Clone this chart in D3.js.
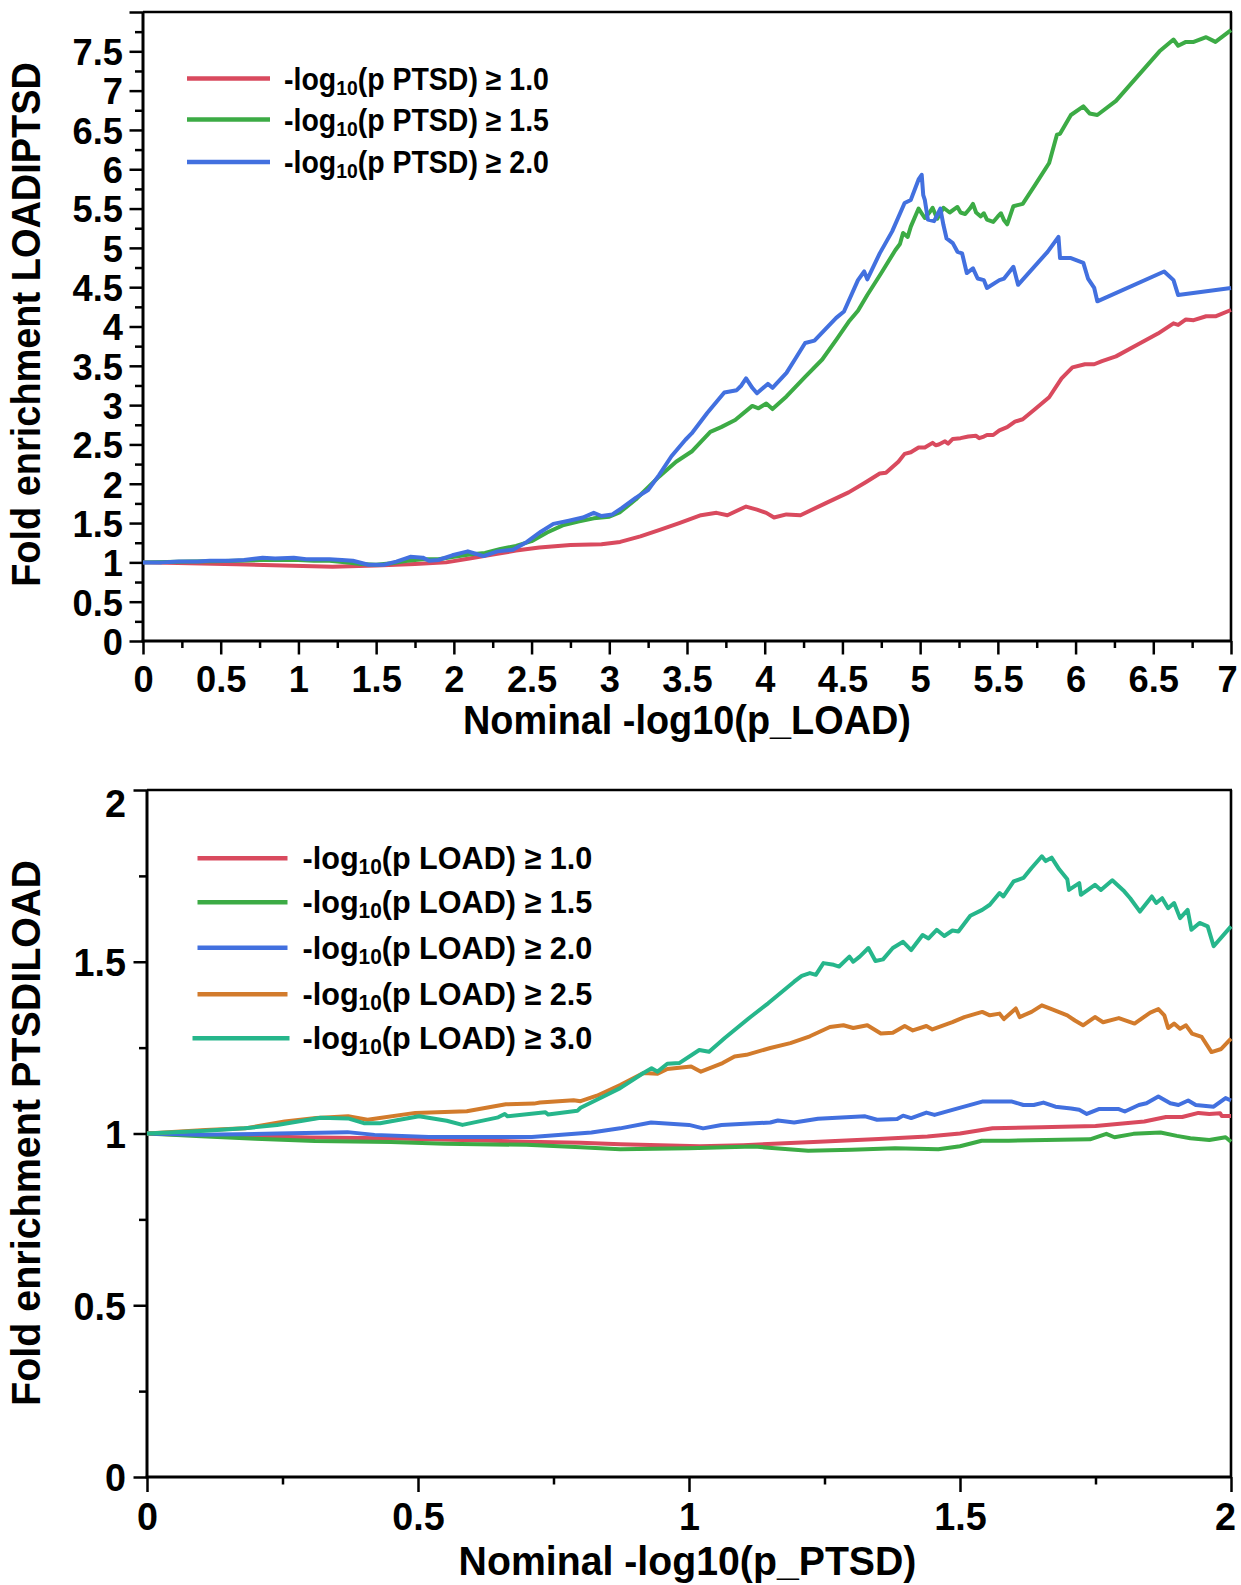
<!DOCTYPE html>
<html><head><meta charset="utf-8">
<script src="https://cdn.jsdelivr.net/npm/d3@7/dist/d3.min.js"></script>
<style>
html,body{margin:0;padding:0;background:#fff;}
svg{display:block;}
text{font-family:"Liberation Sans",Arial,Helvetica,sans-serif;font-weight:bold;fill:#000;}
</style></head><body>
<svg id="chart" width="1241" height="1585"></svg>
<script>
// ---------------- DATA ----------------
// Top panel: fold enrichment LOAD|PTSD vs nominal -log10(p_LOAD)
const topLevels = ["1.0", "1.5", "2.0"];
const topColors = ["#d94a5e", "#3cab45", "#4270df"];
const topXMajor = [0,0.5,1,1.5,2,2.5,3,3.5,4,4.5,5,5.5,6,6.5,7];
const topYMajor = [0,0.5,1,1.5,2,2.5,3,3.5,4,4.5,5,5.5,6,6.5,7,7.5,8];
const topYLabels = ["0","0.5","1","1.5","2","2.5","3","3.5","4","4.5","5","5.5","6","6.5","7","7.5",""];

const topPtsd10 = [[0,1.0],[0.3,0.99],[0.6,0.975],[0.9,0.96],[1.22,0.945],[1.5,0.96],[1.75,0.98],[1.95,1.0],[2.1,1.05],[2.25,1.1],[2.4,1.15],[2.55,1.19],[2.75,1.22],[2.95,1.23],[3.07,1.26],[3.2,1.33],[3.32,1.41],[3.45,1.5],[3.59,1.6],[3.69,1.63],[3.76,1.60],[3.88,1.71],[3.95,1.67],[4.01,1.63],[4.06,1.57],[4.14,1.61],[4.23,1.60],[4.39,1.75],[4.54,1.89],[4.65,2.02],[4.74,2.13],[4.78,2.14],[4.86,2.28],[4.90,2.38],[4.94,2.40],[4.99,2.46],[5.03,2.46],[5.08,2.52],[5.10,2.49],[5.12,2.50],[5.16,2.54],[5.18,2.51],[5.21,2.57],[5.26,2.58],[5.31,2.60],[5.36,2.61],[5.38,2.58],[5.41,2.60],[5.43,2.62],[5.47,2.62],[5.51,2.68],[5.56,2.72],[5.61,2.79],[5.66,2.82],[5.74,2.95],[5.83,3.10],[5.91,3.34],[5.98,3.48],[6.06,3.52],[6.12,3.52],[6.17,3.56],[6.26,3.62],[6.40,3.77],[6.53,3.91],[6.63,4.04],[6.66,4.02],[6.71,4.09],[6.76,4.08],[6.84,4.13],[6.90,4.13],[7.0,4.21]];

const topPtsd15 = [[0,1.0],[0.15,1.005],[0.3,1.01],[0.45,1.015],[0.6,1.02],[0.75,1.03],[0.9,1.03],[1.0,1.03],[1.1,1.02],[1.2,1.02],[1.3,1.0],[1.4,0.98],[1.5,0.97],[1.6,0.99],[1.7,1.02],[1.8,1.04],[1.9,1.04],[2.0,1.07],[2.1,1.1],[2.2,1.12],[2.3,1.17],[2.4,1.21],[2.5,1.27],[2.6,1.38],[2.7,1.47],[2.8,1.52],[2.9,1.56],[3.0,1.58],[3.07,1.64],[3.17,1.80],[3.32,2.09],[3.43,2.28],[3.53,2.41],[3.65,2.66],[3.72,2.72],[3.81,2.81],[3.92,2.99],[3.96,2.96],[4.01,3.02],[4.05,2.95],[4.14,3.11],[4.26,3.36],[4.37,3.58],[4.46,3.83],[4.54,4.06],[4.60,4.20],[4.66,4.40],[4.75,4.68],[4.84,4.97],[4.87,5.05],[4.89,5.19],[4.92,5.14],[4.94,5.27],[4.99,5.50],[5.03,5.38],[5.06,5.45],[5.08,5.51],[5.11,5.37],[5.15,5.51],[5.19,5.45],[5.24,5.52],[5.26,5.45],[5.29,5.43],[5.32,5.50],[5.34,5.56],[5.36,5.45],[5.39,5.40],[5.41,5.44],[5.43,5.36],[5.47,5.33],[5.50,5.40],[5.52,5.44],[5.54,5.35],[5.56,5.30],[5.60,5.53],[5.66,5.56],[5.74,5.80],[5.83,6.08],[5.88,6.44],[5.90,6.45],[5.97,6.69],[6.05,6.80],[6.09,6.71],[6.14,6.69],[6.26,6.87],[6.38,7.14],[6.54,7.50],[6.63,7.65],[6.66,7.57],[6.71,7.62],[6.76,7.62],[6.84,7.68],[6.90,7.62],[7.0,7.77]];

const topPtsd20 = [[0,1.0],[0.12,1.0],[0.23,1.01],[0.35,1.01],[0.43,1.02],[0.55,1.02],[0.65,1.03],[0.77,1.06],[0.85,1.05],[0.97,1.06],[1.05,1.04],[1.2,1.04],[1.28,1.03],[1.35,1.02],[1.45,0.97],[1.55,0.97],[1.63,1.01],[1.72,1.07],[1.8,1.06],[1.84,1.02],[1.9,1.03],[1.99,1.09],[2.09,1.14],[2.14,1.11],[2.19,1.08],[2.28,1.14],[2.38,1.16],[2.47,1.26],[2.56,1.39],[2.64,1.49],[2.74,1.53],[2.83,1.57],[2.90,1.63],[2.95,1.59],[3.02,1.61],[3.08,1.69],[3.17,1.82],[3.25,1.92],[3.32,2.11],[3.40,2.35],[3.49,2.56],[3.53,2.64],[3.63,2.90],[3.74,3.16],[3.82,3.19],[3.85,3.25],[3.88,3.34],[3.92,3.22],[3.95,3.15],[4.02,3.27],[4.05,3.22],[4.14,3.41],[4.20,3.60],[4.26,3.79],[4.32,3.82],[4.46,4.11],[4.51,4.19],[4.60,4.59],[4.64,4.70],[4.66,4.60],[4.74,4.93],[4.82,5.21],[4.90,5.57],[4.94,5.61],[4.99,5.87],[5.01,5.93],[5.02,5.67],[5.03,5.61],[5.05,5.36],[5.09,5.34],[5.13,5.50],[5.15,5.29],[5.17,5.12],[5.21,5.06],[5.24,4.95],[5.27,4.93],[5.30,4.68],[5.34,4.74],[5.37,4.61],[5.41,4.59],[5.43,4.49],[5.51,4.59],[5.54,4.61],[5.60,4.76],[5.63,4.53],[5.82,4.95],[5.89,5.14],[5.90,4.87],[5.97,4.87],[6.05,4.81],[6.08,4.61],[6.12,4.49],[6.14,4.32],[6.57,4.70],[6.63,4.59],[6.66,4.40],[7.0,4.49]];

// Bottom panel: fold enrichment PTSD|LOAD vs nominal -log10(p_PTSD)
const bottomLevels = ["1.0", "1.5", "2.0", "2.5", "3.0"];
const bottomColors = ["#d94a5e", "#3cab45", "#4270df", "#d27b2c", "#26b68b"];
const bottomXMajor = [0,0.5,1,1.5,2];
const bottomYMajor = [0,0.5,1,1.5,2];

const botLoad10 = [[0,1.0],[0.1,0.995],[0.2,0.992],[0.3,0.988],[0.4,0.987],[0.5,0.984],[0.6,0.98],[0.7,0.976],[0.8,0.973],[0.873,0.969],[1.02,0.963],[1.1,0.966],[1.24,0.976],[1.35,0.984],[1.44,0.991],[1.5,1.0],[1.56,1.015],[1.65,1.018],[1.75,1.022],[1.84,1.035],[1.88,1.048],[1.91,1.048],[1.94,1.06],[1.96,1.057],[1.98,1.059],[1.983,1.051],[2.0,1.051]];

const botLoad15 = [[0,1.0],[0.1,0.992],[0.2,0.985],[0.31,0.978],[0.45,0.975],[0.55,0.97],[0.7,0.967],[0.8,0.96],[0.873,0.954],[1.0,0.957],[1.12,0.962],[1.22,0.95],[1.3,0.953],[1.38,0.957],[1.46,0.954],[1.5,0.963],[1.54,0.979],[1.59,0.979],[1.74,0.983],[1.77,0.999],[1.785,0.989],[1.82,0.999],[1.87,1.003],[1.9,0.993],[1.925,0.986],[1.96,0.981],[1.99,0.989],[2.0,0.976]];

const botLoad20 = [[0,1.0],[0.1,0.996],[0.24,1.0],[0.37,1.004],[0.42,0.996],[0.52,0.99],[0.71,0.99],[0.82,1.003],[0.873,1.015],[0.93,1.032],[1.0,1.025],[1.026,1.015],[1.06,1.025],[1.15,1.032],[1.164,1.038],[1.194,1.032],[1.238,1.043],[1.325,1.05],[1.347,1.04],[1.384,1.042],[1.395,1.052],[1.41,1.045],[1.438,1.061],[1.453,1.054],[1.486,1.069],[1.541,1.093],[1.596,1.093],[1.617,1.083],[1.636,1.083],[1.654,1.09],[1.676,1.078],[1.705,1.073],[1.72,1.069],[1.734,1.057],[1.756,1.071],[1.793,1.071],[1.804,1.064],[1.83,1.083],[1.844,1.088],[1.866,1.108],[1.888,1.088],[1.903,1.083],[1.921,1.096],[1.935,1.083],[1.968,1.078],[1.99,1.103],[2.0,1.096]];

const botLoad25 = [[0,1.0],[0.108,1.01],[0.181,1.015],[0.254,1.035],[0.312,1.045],[0.371,1.05],[0.407,1.04],[0.495,1.06],[0.59,1.065],[0.662,1.085],[0.714,1.087],[0.725,1.09],[0.787,1.097],[0.8,1.094],[0.83,1.11],[0.873,1.141],[0.916,1.176],[0.942,1.174],[0.96,1.188],[1.004,1.195],[1.022,1.18],[1.062,1.205],[1.084,1.224],[1.106,1.229],[1.15,1.249],[1.187,1.263],[1.223,1.283],[1.26,1.31],[1.285,1.315],[1.303,1.307],[1.329,1.315],[1.354,1.291],[1.376,1.293],[1.398,1.313],[1.413,1.30],[1.438,1.313],[1.449,1.303],[1.486,1.324],[1.508,1.339],[1.541,1.354],[1.555,1.344],[1.573,1.349],[1.581,1.333],[1.603,1.364],[1.61,1.339],[1.632,1.354],[1.651,1.373],[1.669,1.362],[1.698,1.344],[1.712,1.329],[1.727,1.315],[1.749,1.339],[1.764,1.324],[1.793,1.336],[1.822,1.32],[1.851,1.352],[1.866,1.362],[1.877,1.344],[1.884,1.307],[1.895,1.32],[1.906,1.305],[1.917,1.315],[1.928,1.291],[1.946,1.281],[1.964,1.237],[1.982,1.246],[2.0,1.276]];

const botLoad30 = [[0,1.0],[0.108,1.008],[0.18,1.015],[0.24,1.025],[0.32,1.046],[0.371,1.044],[0.40,1.03],[0.43,1.03],[0.502,1.05],[0.553,1.037],[0.582,1.025],[0.648,1.047],[0.66,1.057],[0.665,1.05],[0.735,1.062],[0.74,1.055],[0.794,1.066],[0.80,1.075],[0.845,1.11],[0.873,1.132],[0.916,1.176],[0.931,1.19],[0.942,1.18],[0.96,1.203],[0.982,1.205],[1.019,1.243],[1.037,1.238],[1.066,1.278],[1.114,1.34],[1.146,1.379],[1.194,1.442],[1.208,1.459],[1.223,1.467],[1.234,1.462],[1.248,1.496],[1.267,1.491],[1.277,1.486],[1.296,1.515],[1.303,1.50],[1.315,1.515],[1.331,1.54],[1.344,1.502],[1.358,1.507],[1.376,1.54],[1.395,1.558],[1.41,1.534],[1.431,1.578],[1.442,1.568],[1.457,1.593],[1.471,1.575],[1.486,1.591],[1.497,1.588],[1.519,1.634],[1.541,1.651],[1.555,1.666],[1.573,1.70],[1.58,1.69],[1.599,1.734],[1.617,1.744],[1.632,1.773],[1.651,1.807],[1.658,1.793],[1.669,1.803],[1.683,1.769],[1.698,1.74],[1.701,1.709],[1.72,1.729],[1.723,1.695],[1.749,1.724],[1.76,1.709],[1.781,1.737],[1.803,1.705],[1.814,1.685],[1.832,1.646],[1.854,1.69],[1.862,1.671],[1.873,1.685],[1.884,1.656],[1.895,1.671],[1.906,1.627],[1.92,1.651],[1.927,1.593],[1.942,1.613],[1.957,1.603],[1.968,1.545],[2.0,1.603]];

// ---------------- DRAWING ----------------
const svg = d3.select("#chart");

function stretchText(sel, targetW){
  const w = sel.node().getBBox().width;
  return targetW / w;
}

function panel(o){
  const g = svg.append("g");
  const x = d3.scaleLinear().domain(o.xDomain).range([o.left, o.right]);
  const y = d3.scaleLinear().domain(o.yDomain).range([o.bottom, o.top]);

  // frame (top & right)
  g.append("line").attr("x1", x(o.xDomain[0])).attr("x2", x(o.xDomain[1])+1).attr("y1", y(o.yDomain[1])).attr("y2", y(o.yDomain[1]))
    .attr("stroke","#000").attr("stroke-width",2.6);
  g.append("line").attr("x1", x(o.xDomain[1])).attr("x2", x(o.xDomain[1])).attr("y1", y(o.yDomain[1])).attr("y2", y(o.yDomain[0]))
    .attr("stroke","#000").attr("stroke-width",2.6);

  // minor ticks
  const xMinorAxis = d3.axisBottom(x).tickValues(o.xMinor).tickSize(o.xMinorLen).tickFormat("");
  const gxm = g.append("g").attr("transform",`translate(0,${o.bottom})`).call(xMinorAxis);
  gxm.select(".domain").remove();
  gxm.selectAll("line").attr("stroke-width",2.5);
  const yMinorAxis = d3.axisLeft(y).tickValues(o.yMinor).tickSize(o.yMinorLen).tickFormat("");
  const gym = g.append("g").attr("transform",`translate(${o.left},0)`).call(yMinorAxis);
  gym.select(".domain").remove();
  gym.selectAll("line").attr("stroke-width",2.5);

  // major x
  const xAxis = d3.axisBottom(x).tickValues(o.xMajor).tickSize(o.xMajorLen).tickFormat(d => String(d));
  const gx = g.append("g").attr("transform",`translate(0,${o.bottom})`).call(xAxis);
  gx.attr("font-family", null).attr("font-size", null);
  gx.select(".domain").remove();
  gx.selectAll("line").attr("stroke-width",2.5);
  gx.selectAll("text").attr("font-size", o.tickFont).attr("dy", 0)
    .attr("y", o.xLabelGap + 0.716*o.tickFont)
    .attr("transform", `scale(${o.tickSx},1)`);
  gx.selectAll(".tick").filter((d,i,n) => i === n.length-1).select("text").attr("x", -o.lastShift/o.tickSx);

  // major y
  const yAxis = d3.axisLeft(y).tickValues(o.yMajor).tickSize(o.yMajorLen).tickFormat((d,i) => o.yLabels[i]);
  const gy = g.append("g").attr("transform",`translate(${o.left},0)`).call(yAxis);
  gy.attr("font-family", null).attr("font-size", null);
  gy.select(".domain").remove();
  gy.selectAll("line").attr("stroke-width",2.5);
  gy.selectAll("text").attr("font-size", o.tickFont).attr("dy", "0.36em")
    .attr("x", -o.yLabelGap/o.tickSx)
    .attr("transform", `scale(${o.tickSx},1)`);
  if (o.topLabelShift) {
    gy.selectAll(".tick").filter(d => d === o.yDomain[1]).select("text").attr("y", o.topLabelShift);
  }

  // axis lines
  g.append("line").attr("x1", o.left).attr("x2", o.left).attr("y1", y(o.yDomain[1])).attr("y2", y(o.yDomain[0])+1.3)
    .attr("stroke","#000").attr("stroke-width",3);
  g.append("line").attr("x1", o.left-1.3).attr("x2", x(o.xDomain[1])).attr("y1", o.bottom).attr("y2", o.bottom)
    .attr("stroke","#000").attr("stroke-width",3);

  // series
  const line = d3.line().x(d => x(d[0])).y(d => y(d[1]));
  o.series.forEach((s, i) => {
    g.append("path").datum(s).attr("d", line).attr("fill","none")
      .attr("stroke", o.colors[i]).attr("stroke-width", 4)
      .attr("stroke-linejoin","round").attr("stroke-linecap","butt");
  });

  // legend
  o.levels.forEach((lv, i) => {
    const ly = o.legendY[i];
    const ext = (i === o.levels.length-1 && o.lastLegendExt) ? o.lastLegendExt : 0;
    g.append("line").attr("x1", o.legendX1 - ext).attr("x2", o.legendX2 + ext*0.4).attr("y1", ly).attr("y2", ly)
      .attr("stroke", o.colors[i]).attr("stroke-width", 4.5);
    const t = g.append("text").attr("x", 0).attr("y", 0).attr("font-size", o.legendFont);
    t.append("tspan").text("-log");
    t.append("tspan").attr("font-size", o.legendFont*0.68).attr("dy", 5).text("10");
    t.append("tspan").attr("dy", -5).text(`(p ${o.legendVar}) \u2265 ${lv}`);
    const s = stretchText(t, o.legendW);
    t.attr("transform", `translate(${o.legendTX},${ly + 11}) scale(${s},1)`);
  });

  // x title
  const xt = g.append("text").attr("text-anchor","middle").attr("font-size", o.titleFont).text(o.xTitle);
  const sx = stretchText(xt, o.xTitleW);
  xt.attr("transform", `translate(${o.xTitleCX},${o.xTitleBase}) scale(${sx},1)`);

  // y title
  const yt = g.append("text").attr("text-anchor","middle").attr("font-size", o.titleFont).text(o.yTitle);
  const sy = stretchText(yt, o.yTitleW);
  yt.attr("transform", `translate(${o.yTitleBase},${o.yTitleCY}) rotate(-90) scale(${sy},1)`);
}

panel({
  xDomain:[0,7], yDomain:[0,8], left:143, right:1231, top:12, bottom:641,
  xMajor: topXMajor, xMinor: d3.range(0.25, 7, 0.5),
  yMajor: topYMajor, yMinor: d3.range(0.25, 8, 0.5), yLabels: topYLabels,
  xMajorLen:13.5, xMinorLen:7, yMajorLen:13.5, yMinorLen:8,
  tickFont:37, tickSx:0.98, xLabelGap:24.5, yLabelGap:20, lastShift:4,
  series:[topPtsd10, topPtsd15, topPtsd20], colors: topColors, levels: topLevels, legendVar:"PTSD",
  legendY:[78.5, 119.5, 162], legendX1:187, legendX2:270, legendTX:284, legendW:265, legendFont:31,
  titleFont:40, xTitle:"Nominal -log10(p_LOAD)", xTitleW:448, xTitleCX:687, xTitleBase:734,
  yTitle:"Fold enrichment LOADIPTSD", yTitleW:525, yTitleCY:324.5, yTitleBase:40
});

panel({
  xDomain:[0,2], yDomain:[0,2], left:147, right:1231, top:790, bottom:1477,
  xMajor: bottomXMajor, xMinor: [0.25,0.75,1.25,1.75],
  yMajor: bottomYMajor, yMinor: [0.25,0.75,1.25,1.75], yLabels: ["0","0.5","1","1.5","2"],
  xMajorLen:15, xMinorLen:7.5, yMajorLen:13.5, yMinorLen:8,
  tickFont:38.5, tickSx:0.98, xLabelGap:25.5, yLabelGap:21, lastShift:6, topLabelShift:13,
  series:[botLoad10, botLoad15, botLoad20, botLoad25, botLoad30], colors: bottomColors, levels: bottomLevels, legendVar:"LOAD",
  legendY:[858.3, 902.3, 947.7, 994.3, 1038.3], legendX1:197.5, legendX2:287.5, lastLegendExt:5, legendTX:302.5, legendW:290, legendFont:32,
  titleFont:41, xTitle:"Nominal -log10(p_PTSD)", xTitleW:458, xTitleCX:687.5, xTitleBase:1574.5,
  yTitle:"Fold enrichment PTSDILOAD", yTitleW:546, yTitleCY:1133, yTitleBase:40
});
</script>
</body></html>
